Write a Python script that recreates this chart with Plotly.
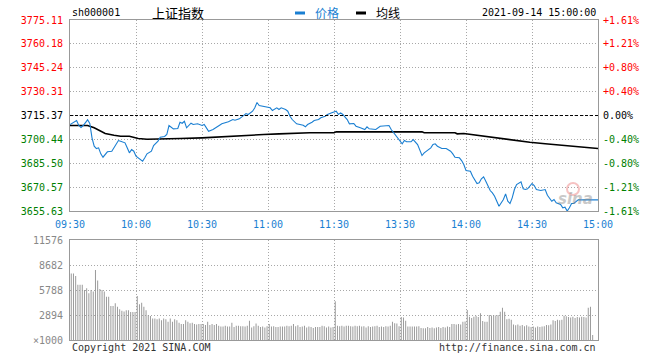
import plotly.graph_objects as go

# ---------------- data ----------------
prev_close = 3715.37
price_ticks = [3655.63, 3670.57, 3685.50, 3700.44, 3715.37, 3730.31, 3745.24, 3760.18, 3775.11]
pct_labels = ['-1.61%', '-1.21%', '-0.80%', '-0.40%', '0.00%', '+0.40%', '+0.80%', '+1.21%', '+1.61%']
time_ticks = [0, 30, 60, 90, 120, 150, 180, 210, 240]
time_labels = ['09:30', '10:00', '10:30', '11:00', '11:30', '13:30', '14:00', '14:30', '15:00']

price_min = [0, 3, 4, 5, 6, 8, 9, 10, 11, 12, 13, 14, 15, 16, 17, 19, 20, 22, 23, 25, 26, 27, 28, 29,
             30, 31, 33, 34, 35, 37, 38, 40, 41, 43, 44, 45, 46, 47, 49, 50, 51, 52, 53, 54, 55, 56,
             58, 60, 61, 62, 63, 65, 66, 68, 69, 71, 72, 74, 75, 77, 78, 80, 81, 83, 84, 85, 86, 88,
             89, 91, 92, 93, 94, 95, 96, 98, 99, 100, 101, 103, 104, 106, 107, 108, 110, 111, 113,
             114, 116, 117, 119, 120, 121, 122, 123, 124, 126, 127, 129, 130, 131, 132, 134, 135,
             136, 138, 139, 141, 143, 145, 146, 148, 149, 151, 152, 153, 155, 156, 158, 159, 160,
             161, 163, 164, 165, 166, 167, 169, 171, 173, 174, 175, 177, 178, 179, 180, 182, 183,
             185, 186, 187, 188, 189, 191, 192, 193, 194, 195, 197, 198, 199, 200, 201, 202, 203,
             205, 206, 207, 208, 209, 210, 211, 212, 214, 216, 217, 218, 219, 220, 221, 223, 224,
             225, 226, 227, 228, 229, 230, 231, 240]
price_val = [3709.67, 3712.24, 3709.12, 3707.86, 3709.12, 3712.68, 3710.37, 3701.42, 3696.17, 3694.73,
             3695.17, 3691.41, 3689.29, 3690.98, 3692.66, 3693.04, 3695.17, 3699.73, 3699.29, 3698.29,
             3695.17, 3692.04, 3694.10, 3693.04, 3689.91, 3688.91, 3686.78, 3688.91, 3691.41, 3693.04,
             3696.61, 3699.29, 3701.80, 3702.24, 3703.49, 3709.12, 3708.30, 3707.05, 3707.24, 3711.18,
             3710.55, 3711.80, 3707.68, 3709.12, 3710.55, 3709.74, 3710.18, 3709.12, 3709.74, 3707.68,
             3705.55, 3706.61, 3707.68, 3709.30, 3710.18, 3710.80, 3711.43, 3712.87, 3712.43, 3713.31,
             3714.31, 3716.62, 3716.00, 3718.06, 3720.19, 3723.50, 3721.63, 3721.19, 3720.56, 3720.19,
             3718.50, 3719.12, 3720.19, 3719.12, 3720.19, 3719.12, 3718.06, 3714.93, 3712.87, 3710.18,
             3709.74, 3709.30, 3708.30, 3709.74, 3711.18, 3712.24, 3712.87, 3713.93, 3714.93, 3716.00,
             3717.06, 3717.68, 3718.06, 3716.00, 3717.06, 3716.00, 3712.87, 3710.18, 3710.37, 3708.68,
             3708.30, 3707.68, 3706.61, 3708.30, 3707.05, 3707.05, 3706.61, 3708.68, 3708.68, 3709.12,
             3706.61, 3702.86, 3700.80, 3697.67, 3699.73, 3698.92, 3698.92, 3700.36, 3697.23, 3694.10,
             3690.35, 3692.04, 3694.54, 3695.17, 3697.23, 3697.67, 3696.17, 3694.73, 3694.73, 3693.04,
             3691.41, 3689.29, 3688.91, 3687.22, 3684.72, 3680.97, 3680.53, 3677.40, 3672.84, 3673.27,
             3675.78, 3677.03, 3674.27, 3668.46, 3667.02, 3664.89, 3661.76, 3658.64, 3662.83, 3666.39,
             3661.76, 3660.33, 3663.89, 3669.08, 3672.21, 3673.90, 3669.52, 3669.08, 3669.52, 3671.58,
             3672.84, 3671.58, 3669.08, 3668.46, 3669.08, 3665.52, 3663.89, 3661.76, 3662.83, 3660.76,
             3659.70, 3657.64, 3658.01, 3655.63, 3657.64, 3660.33, 3660.33, 3661.76, 3662.60, 3662.60]

avg_min = [0, 8, 11, 14, 16, 20, 23, 27, 29, 31, 35, 44, 50, 60, 71, 82, 88, 95, 109, 120, 121,
           160, 161, 175, 176, 179, 186, 194, 201, 209, 216, 224, 232, 240]
avg_val = [3709.12, 3709.12, 3707.68, 3705.55, 3704.11, 3703.05, 3702.42, 3702.42, 3701.80, 3700.98,
           3700.55, 3700.55, 3700.98, 3701.42, 3702.05, 3702.86, 3703.49, 3703.92, 3704.55, 3704.55,
           3705.17, 3705.17, 3704.55, 3704.55, 3703.92, 3704.11, 3702.86, 3701.42, 3699.73, 3698.67,
           3697.67, 3696.61, 3695.54, 3694.73]

volume = [7700, 7700, 7400, 6400, 6400, 6400, 5800, 6000, 5400, 5800,
          5600, 8100, 6900, 5900, 5800, 5600, 5000, 5000, 3950, 3950,
          4250, 3850, 3550, 3400, 3300, 3450, 3450, 3250, 3250, 3250,
          5100, 4150, 4300, 3850, 3450, 2900, 2780, 2500, 2500, 2400,
          2500, 2300, 2500, 2400, 2100, 2500, 2100, 2400, 2300, 2000,
          1850, 1850, 2300, 2100, 1950, 2000, 1850, 1800, 1850, 1850,
          1850, 1750, 2100, 1750, 1850, 1750, 1850, 1650, 1550, 1550,
          1650, 1550, 1550, 2000, 1500, 1650, 1650, 1600, 1600, 1550,
          1650, 2230, 1450, 1600, 1900, 1650, 1500, 1550, 1450, 1600,
          1850, 1550, 1600, 1500, 1500, 1550, 1550, 1550, 1650, 1600,
          1650, 1850, 1600, 1700, 1500, 1550, 1650, 1450, 1550, 1500,
          1400, 1500, 1500, 1500, 1650, 1600, 1450, 1550, 1450, 1500,
          4500,
          1650, 1600, 1650, 1550, 1650, 1650, 1600, 1550, 1650, 1600,
          1650, 1550, 1600, 1450, 1600, 1500, 1550, 1600, 1650, 1500,
          1550, 1500, 1600, 1550, 1650, 2120, 1950, 1900, 1600, 2650,
          2600, 2230, 1550, 1550, 1550, 1550, 1550, 1600, 1400, 1350,
          1350, 1500, 1400, 1450, 1350, 1450, 1500, 1400, 1500, 1450,
          1550, 1500, 1850, 1850, 1800, 1850, 1800, 2100, 2150, 3470,
          2700, 2550, 2700, 2800, 2650, 3100, 2200, 2100, 2100, 2900,
          2850, 2900, 2850, 2900, 3280, 3740, 3280, 2400, 2450, 2350,
          1800, 1700, 1800, 1650, 1750, 1600, 1700, 1550, 1500, 1550,
          1450, 1550, 1500, 1550, 1600, 1750, 1700, 1800, 2300, 2200,
          2350, 2300, 2350, 2800, 2750, 2650, 2600, 2700, 2550, 2650,
          2600, 2700, 2650, 2600, 3740, 3860, 580, 0, 0, 0]
vol_ticks = [0, 2894, 5788, 8682, 11576]
vol_labels = ['×1000', '2894', '5788', '8682', '11576']

# ---------------- style ----------------
MONO = 'DejaVu Sans Mono'
CJK = 'Noto Sans CJK SC'
BLUE = '#1a7fd2'
RED = '#ff0000'
GREEN = '#008000'
FRAME = '#999999'
GRID = '#a8a8a8'


def colored(vals, labels):
    out = []
    for v, t in zip(vals, labels):
        c = RED if v > prev_close + 0.001 else (GREEN if v < prev_close - 0.001 else '#000000')
        out.append('<span style="color:%s">%s</span>' % (c, t))
    return out


fig = go.Figure()
fig.add_trace(go.Bar(x=list(range(len(volume))), y=volume, xaxis='x2', yaxis='y3',
                     width=0.45, offset=0.35, marker=dict(color='#999999', line=dict(width=0)),
                     hoverinfo='skip'))
fig.add_trace(go.Scatter(x=avg_min, y=avg_val, mode='lines', xaxis='x', yaxis='y',
                         line=dict(color='#000000', width=1.6), hoverinfo='skip'))
fig.add_trace(go.Scatter(x=price_min, y=price_val, mode='lines', xaxis='x', yaxis='y',
                         line=dict(color=BLUE, width=1.1), hoverinfo='skip'))
fig.add_trace(go.Scatter(x=price_min, y=price_val, mode='lines', xaxis='x', yaxis='y2',
                         opacity=0, hoverinfo='skip'))

fig.add_shape(type='line', xref='x', yref='y', x0=0, x1=240, y0=prev_close, y1=prev_close,
              line=dict(color='#000000', width=1, dash='3px,2px'))

axis_common = dict(showline=True, mirror=True, linecolor=FRAME, linewidth=1,
                   showgrid=True, gridcolor=GRID, griddash='1px,2px', gridwidth=1,
                   zeroline=False, ticks='', ticklen=0, fixedrange=True)

fig.update_layout(
    width=660, height=360,
    margin=dict(l=70, r=62, t=20, b=20),
    paper_bgcolor='white', plot_bgcolor='white',
    showlegend=False,
    font=dict(family=MONO, size=10, color='#000000'),
    xaxis=dict(domain=[0, 1], range=[0, 240], anchor='y', tickvals=time_ticks, ticktext=time_labels,
               tickfont=dict(family=MONO, size=10, color=BLUE), ticklabelstandoff=4, **axis_common),
    yaxis=dict(domain=[0.403, 1], range=[price_ticks[0], price_ticks[-1]], anchor='x',
               tickvals=price_ticks, ticktext=colored(price_ticks, ['%.2f' % v for v in price_ticks]),
               tickfont=dict(family=MONO, size=10), ticklabelstandoff=4, **axis_common),
    yaxis2=dict(overlaying='y', side='right', anchor='x', range=[price_ticks[0], price_ticks[-1]],
                tickvals=price_ticks, ticktext=colored(price_ticks, pct_labels),
                tickfont=dict(family=MONO, size=10), showgrid=False, zeroline=False,
                showline=False, ticks='', ticklabelstandoff=4, fixedrange=True),
    xaxis2=dict(domain=[0, 1], range=[0, 240], anchor='y3', tickvals=time_ticks,
                showticklabels=False, **axis_common),
    yaxis3=dict(domain=[0, 0.3125], range=[0, 11576], anchor='x2', tickvals=vol_ticks,
                ticktext=vol_labels, tickfont=dict(family=MONO, size=10, color='#888888'),
                ticklabelstandoff=4, **axis_common),
)


def px(xp):
    return (xp - 70) / 528.0


def py(yp):
    return (340 - yp) / 320.0


ann = [
    dict(text='sh000001', x=0, y=py(13), xanchor='left', font=dict(family=MONO, size=10, color='#000')),
    dict(text='上证指数', x=px(150), y=py(13), xanchor='left', font=dict(family=CJK, size=13, color='#000')),
    dict(text='价格', x=px(313), y=py(13), xanchor='left', font=dict(family=CJK, size=12, color=BLUE)),
    dict(text='均线', x=px(374), y=py(13), xanchor='left', font=dict(family=CJK, size=12, color='#000')),
    dict(text='2021-09-14 15:00:00', x=px(598), y=py(13), xanchor='right',
         font=dict(family=MONO, size=10, color='#000')),
    dict(text='Copyright 2021 SINA.COM', x=0, y=py(347), xanchor='left',
         font=dict(family=MONO, size=10, color='#333')),
    dict(text='http://finance.sina.com.cn', x=1, y=py(347), xanchor='right',
         font=dict(family=MONO, size=10, color='#333')),
    dict(text='<b><i>sina</i></b>', x=px(575), y=py(199), xanchor='center', opacity=0.45,
         font=dict(family='DejaVu Sans', size=15, color='#888888')),
]
for a in ann:
    a.update(xref='paper', yref='paper', yanchor='middle', showarrow=False)
fig.update_layout(annotations=ann)

fig.add_shape(type='line', xref='paper', yref='paper', x0=px(295), x1=px(305), y0=py(13), y1=py(13),
              line=dict(color=BLUE, width=3))
fig.add_shape(type='line', xref='paper', yref='paper', x0=px(356), x1=px(366), y0=py(13), y1=py(13),
              line=dict(color='#000000', width=3))
fig.add_shape(type='circle', xref='paper', yref='paper', x0=px(567), x1=px(579), y0=py(195), y1=py(183),
              line=dict(color='rgba(230,80,80,0.35)', width=2), fillcolor='rgba(255,255,255,0)')

fig.write_html('out.html', config={'staticPlot': True})
